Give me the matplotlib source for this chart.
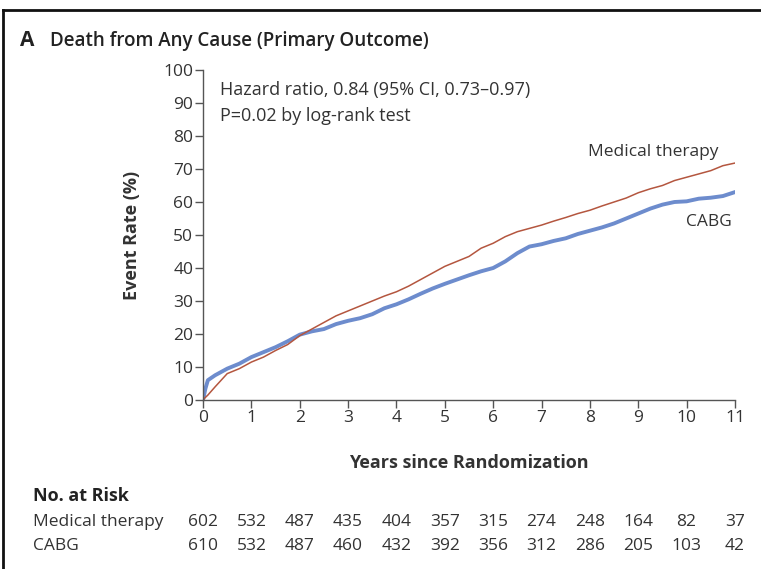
import matplotlib
matplotlib.use("Agg")
import matplotlib.pyplot as plt
from matplotlib.lines import Line2D
from matplotlib.transforms import blended_transform_factory

plt.rcParams['font.family'] = ['Open Sans', 'DejaVu Sans']

# Kaplan-Meier style event rates (%)
years = [0, 0.05, 0.1, 0.25, 0.5, 0.75, 1.0, 1.25, 1.5, 1.75, 2.0, 2.25, 2.5, 2.75,
         3.0, 3.25, 3.5, 3.75, 4.0, 4.25, 4.5, 4.75, 5.0, 5.25, 5.5, 5.75, 6.0, 6.25,
         6.5, 6.75, 7.0, 7.25, 7.5, 7.75, 8.0, 8.25, 8.5, 8.75, 9.0, 9.25, 9.5, 9.75,
         10.0, 10.25, 10.5, 10.75, 11.0]
medical = [0, 0.8, 1.5, 4, 8, 9.5, 11.5, 13, 15, 16.8, 19.5, 21.5, 23.5, 25.5,
           27, 28.5, 30, 31.5, 32.8, 34.5, 36.5, 38.5, 40.5, 42, 43.5, 46, 47.5, 49.5,
           51, 52, 53, 54.2, 55.3, 56.5, 57.5, 58.8, 60, 61.2, 62.8, 64, 65, 66.5,
           67.5, 68.5, 69.5, 71, 71.8]
cabg = [0, 3.5, 6, 7.5, 9.5, 11, 13, 14.5, 16, 17.8, 19.8, 20.8, 21.5, 23,
        24, 24.8, 26, 27.8, 29, 30.5, 32.2, 33.8, 35.2, 36.5, 37.8, 39, 40, 42,
        44.5, 46.5, 47.2, 48.2, 49, 50.3, 51.3, 52.3, 53.5, 55, 56.5, 58, 59.2, 60,
        60.2, 61, 61.3, 61.8, 63]

risk_years = list(range(12))
risk_medical = [602, 532, 487, 435, 404, 357, 315, 274, 248, 164, 82, 37]
risk_cabg = [610, 532, 487, 460, 432, 392, 356, 312, 286, 205, 103, 42]

red = '#b4563f'
blue = '#6d8ccd'
dark = '#333333'

fig = plt.figure(figsize=(7.61, 5.69), dpi=100)
ax = fig.add_axes([0.2668, 0.297, 0.699, 0.58])

ax.plot(years, cabg, color=blue, lw=2.8)
ax.plot(years, medical, color=red, lw=1.1)

ax.set_xlim(0, 11)
ax.set_ylim(0, 100)
ax.set_xticks(range(12))
ax.set_yticks(range(0, 101, 10))
for s in ['top', 'right']:
    ax.spines[s].set_visible(False)
for s in ['left', 'bottom']:
    ax.spines[s].set_color('#555555')
    ax.spines[s].set_linewidth(1.0)
ax.tick_params(length=6, width=1.0, color='#555555', labelsize=12.5, labelcolor=dark, pad=1)

ax.set_xlabel('Years since Randomization', fontsize=13, fontweight='bold', color=dark, labelpad=20)
ax.set_ylabel('Event Rate (%)', fontsize=13, fontweight='bold', color=dark, labelpad=16)

ax.text(0.35, 94, 'Hazard ratio, 0.84 (95% CI, 0.73\u20130.97)', fontsize=13, color=dark, va='center')
ax.text(0.35, 86.2, 'P=0.02 by log-rank test', fontsize=13, color=dark, va='center')
ax.text(10.65, 75, 'Medical therapy', fontsize=12.5, color=dark, ha='right', va='center')
ax.text(10.93, 54, 'CABG', fontsize=12.5, color=dark, ha='right', va='center')

# panel title
fig.text(20 / 761, 1 - 41 / 569, 'A', fontsize=15, fontweight='bold', color='#222222', va='center')
fig.text(50 / 761, 1 - 41 / 569, 'Death from Any Cause (Primary Outcome)', fontsize=13.5,
         fontweight='semibold', color='#222222', va='center')

# number at risk table
fig.text(33 / 761, 1 - 496 / 569, 'No. at Risk', fontsize=13, fontweight='bold', color='#222222', va='center')
row_y = [1 - 522 / 569, 1 - 546 / 569]
trans = blended_transform_factory(ax.transData, fig.transFigure)
for label, vals, yy in [('Medical therapy', risk_medical, row_y[0]), ('CABG', risk_cabg, row_y[1])]:
    fig.text(33 / 761, yy, label, fontsize=12.5, color=dark, va='center')
    for xv, n in zip(risk_years, vals):
        ax.text(xv, yy, str(n), fontsize=12.5, color=dark, ha='center', va='center', transform=trans)

# frame lines (top and left)
fig.add_artist(Line2D([3 / 761, 1], [1 - 10 / 569, 1 - 10 / 569], color='#111111', lw=2, transform=fig.transFigure))
fig.add_artist(Line2D([3 / 761, 3 / 761], [0, 1 - 10 / 569], color='#111111', lw=2, transform=fig.transFigure))

fig.savefig('out.png', dpi=100)
